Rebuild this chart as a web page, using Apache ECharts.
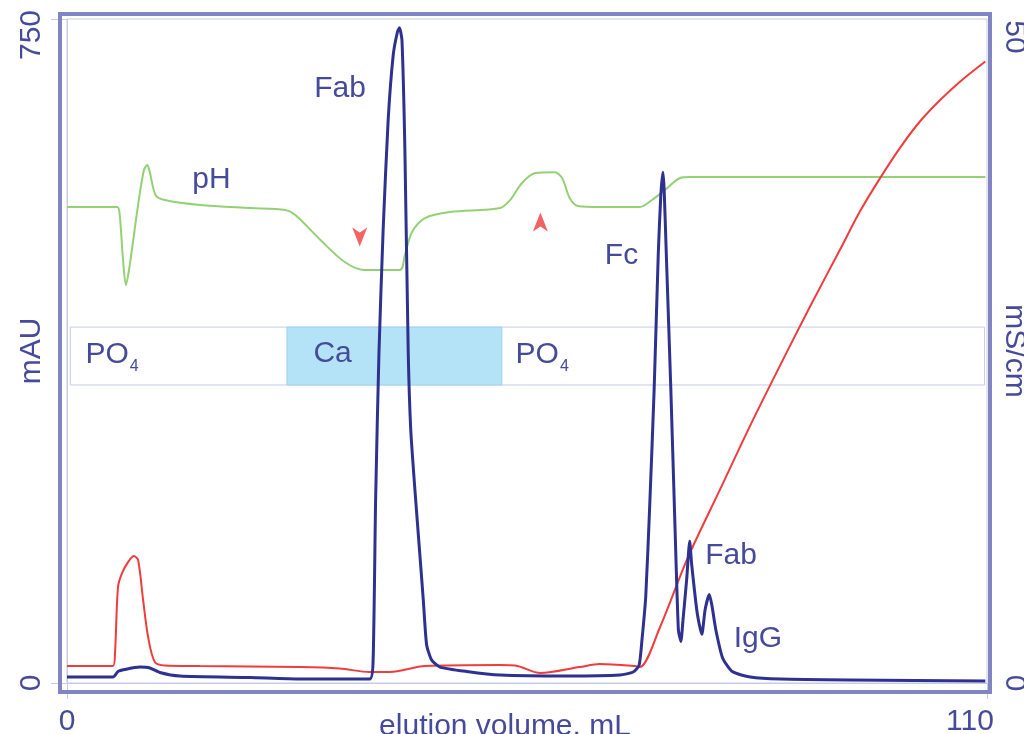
<!DOCTYPE html>
<html>
<head>
<meta charset="utf-8">
<title>Fab / Fc separation</title>
<script src="https://cdn.jsdelivr.net/npm/echarts@6/dist/echarts.min.js"></script>
<style>
  html, body { margin: 0; padding: 0; background: #fff; }
  #chart { width: 1024px; height: 734px; }
</style>
</head>
<body>
<div id="chart"></div>
<script>
// UV trace, [mL, mAU]
var uvTrace = [
  [0, 6.8], [5.5, 6.8], [6.1, 13], [6.9, 15.2], [8.7, 18], [9.9, 17], [11.1, 11.9],
  [13.5, 7.9], [21.9, 6.2], [27.9, 4.5], [36.2, 4.5],
  [36.6, 26], [36.9, 207], [37.3, 373], [37.8, 512], [38.4, 636], [39.0, 709],
  [39.5, 735], [39.75, 740], [40.05, 726], [40.4, 602], [40.8, 373], [41.1, 286],
  [41.6, 218], [42.1, 156], [42.6, 94], [43.0, 43], [43.6, 26], [44.6, 18],
  [47.8, 13], [51.8, 9], [59.8, 7.9], [66.1, 9], [67.7, 12.4], [68.4, 20],
  [68.75, 49], [69.2, 98], [69.7, 207], [70.2, 331], [70.7, 486], [71.0, 551],
  [71.25, 577], [71.4, 557], [71.65, 486], [72.2, 331], [72.7, 175], [73.1, 60],
  [73.4, 47], [73.65, 71], [74.1, 118], [74.45, 160], [74.7, 133], [75.35, 79],
  [75.9, 55], [76.3, 83], [76.8, 100], [77.1, 88], [77.6, 59], [78.4, 28],
  [79.6, 12.6], [81.7, 6.8], [85.3, 4.5], [93.6, 3.4], [109.8, 2.3]
];

// conductivity, [mL, mS/cm]
var condTrace = [
  [0, 1.28], [5.5, 1.28], [5.74, 2.26], [6.1, 7.23], [6.58, 8.28], [7.3, 9.1],
  [8.0, 9.56], [8.5, 9.26], [9.1, 6.25], [9.7, 3.46], [10.5, 1.58], [11.7, 1.32],
  [15.9, 1.28], [27.9, 1.2], [32.6, 1.09], [36.2, 0.83], [38.6, 0.83], [42.8, 1.28],
  [51.8, 1.36], [53.6, 1.32], [56.6, 0.75], [61.3, 1.2], [63.7, 1.43], [67.9, 1.28],
  [68.5, 1.2], [70.9, 4.2], [74.2, 9.4], [78.1, 14.6], [81.7, 19.4], [85.25, 23.9],
  [88.8, 28.3], [92.4, 32.6], [94.8, 35.5], [97.2, 38.0], [99.6, 40.3], [102.0, 42.3],
  [104.4, 43.9], [106.8, 45.3], [109.8, 46.8]
];

// pH trace (no pH scale in the figure, drawn on the mAU scale)
var phTrace = [
  [0, 537.7], [6.0, 537.7], [6.3, 528.6], [6.7, 477.8], [7.05, 449.6], [7.5, 472],
  [8.5, 540], [9.2, 579.5], [9.6, 585], [9.9, 577], [10.6, 551], [11.7, 545.6],
  [15.9, 540], [21.9, 536.5], [26.1, 534.3], [27.3, 528.6], [30.3, 500.4],
  [33.2, 475.5], [35.6, 466.5], [39.8, 466.5], [40.4, 483.4], [41.25, 509.4],
  [42.8, 525.2], [45.8, 532], [51.8, 536.5], [53.0, 545.6], [54.4, 564.8],
  [56.0, 576], [58.3, 577], [59.2, 570.4], [60.1, 547.8], [61.1, 538.8],
  [63.7, 537.7], [68.5, 537.7], [69.95, 545.6], [71.5, 556.9], [73.3, 570.4],
  [74.5, 571.5], [109.8, 571.5]
];

// buffer band
var bufferBand = [0.4, 109.7];
var calciumBand = [26.3, 52.0];
var bandLevels = [336.6, 402];

// annotations, [mL, mAU, text]
var peakNames = [
  [32.64, 670.9, 'Fab'], [17.28, 568.2, 'pH'], [66.3, 482.3, 'Fc'],
  [79.4, 143.5, 'Fab'], [82.6, 49.7, 'IgG']
];
var bufferNames = [[2.15, 367, 'PO4'], [29.4, 369, 'Ca'], [53.57, 367, 'PO4']];
var arrowMarks = [[35.0, 503.8, 'down'], [56.6, 520.7, 'up']];

var xRange = [0, 110];
var mauRange = [0, 750];
var condRange = [0, 50];

var textColor = '#464a9a';
var thinLine = '#c9cbe6';
var font = '"Liberation Sans", Arial, sans-serif';

var chart = echarts.init(document.getElementById('chart'));

var option = {
  backgroundColor: '#fff',
  animation: false,
  textStyle: { fontFamily: font },
  grid: {
    left: 67, right: 37, top: 19, bottom: 51,
    containLabel: false, outerBoundsMode: 'none',
    show: true, borderColor: thinLine, borderWidth: 1
  },
  xAxis: {
    type: 'value', min: xRange[0], max: xRange[1], interval: xRange[1] - xRange[0],
    axisLine: { show: true, onZero: false, lineStyle: { color: thinLine, width: 1 } },
    axisTick: { show: true, length: 16, lineStyle: { color: thinLine } },
    splitLine: { show: false },
    axisLabel: {
      margin: 24,
      formatter: function (v) { return v === xRange[1] ? '{end|' + v + '}' : '{n|' + v + '}'; },
      rich: {
        n: { fontSize: 30, color: textColor, fontFamily: font },
        end: { fontSize: 30, color: textColor, fontFamily: font, padding: [0, 34, 0, 0] }
      }
    },
    name: 'elution volume, mL', nameLocation: 'middle', nameGap: 29, nameMoveOverlap: false,
    nameTextStyle: { fontSize: 30, color: textColor, padding: [0, 44, 0, 0] }
  },
  yAxis: [{
    type: 'value', min: mauRange[0], max: mauRange[1], interval: mauRange[1],
    axisLine: { show: true, onZero: false, lineStyle: { color: thinLine, width: 1 } },
    axisTick: { show: true, length: 16, lineStyle: { color: thinLine } },
    splitLine: { show: false },
    axisLabel: {
      rotate: 90, margin: 20,
      formatter: function (v) { return v === mauRange[1] ? '{top|' + v + '}' : '{n|' + v + '}'; },
      rich: {
        n: { fontSize: 30, color: textColor, fontFamily: font },
        top: { fontSize: 30, color: textColor, fontFamily: font, padding: [0, 32, 0, 0] }
      }
    },
    name: 'mAU', nameLocation: 'middle', nameRotate: 90, nameGap: 20, nameMoveOverlap: false,
    nameTextStyle: { fontSize: 30, color: textColor }
  }, {
    type: 'value', position: 'right', min: condRange[0], max: condRange[1], interval: condRange[1],
    axisLine: { show: false, onZero: false },
    axisTick: { show: false },
    splitLine: { show: false },
    axisLabel: {
      rotate: -90, margin: 12,
      formatter: function (v) { return v === condRange[1] ? '{top|' + v + '}' : '{n|' + v + '}'; },
      rich: {
        n: { fontSize: 30, color: textColor, fontFamily: font },
        top: { fontSize: 30, color: textColor, fontFamily: font, padding: [0, 0, 0, 36] }
      }
    },
    name: 'mS/cm', nameLocation: 'middle', nameRotate: -90, nameGap: 12, nameMoveOverlap: false,
    nameTextStyle: { fontSize: 30, color: textColor }
  }],
  graphic: [{
    type: 'rect', z: 100, silent: true,
    shape: { x: 60, y: 14, width: 930, height: 678 },
    style: { fill: 'none', stroke: '#8185c2', lineWidth: 4 }
  }],
  series: [
    {
      name: 'buffer', type: 'line', data: [], z: 1,
      markArea: {
        silent: true,
        label: { show: false },
        data: [
          [{ xAxis: bufferBand[0], yAxis: bandLevels[0], itemStyle: { color: 'rgba(255,255,255,0)', borderColor: thinLine, borderWidth: 1 } },
           { xAxis: bufferBand[1], yAxis: bandLevels[1] }],
          [{ xAxis: calciumBand[0], yAxis: bandLevels[0], itemStyle: { color: '#b4e2f7', borderColor: '#9fd2ec', borderWidth: 1 } },
           { xAxis: calciumBand[1], yAxis: bandLevels[1] }]
        ]
      }
    },
    {
      name: 'pH', type: 'line', data: phTrace, z: 3, showSymbol: false, smooth: 0.3,
      lineStyle: { color: '#93d175', width: 2 }
    },
    {
      name: 'conductivity', type: 'line', yAxisIndex: 1, data: condTrace, z: 4,
      showSymbol: false, smooth: 0.3,
      lineStyle: { color: '#f03c3c', width: 2 }
    },
    {
      name: 'UV', type: 'line', data: uvTrace, z: 5, showSymbol: false, smooth: 0.2,
      lineStyle: { color: '#2e3190', width: 3 }
    },
    {
      name: 'arrows', type: 'scatter', z: 6, silent: true,
      data: arrowMarks.map(function (a) {
        return {
          value: [a[0], a[1]],
          symbol: a[2] === 'down' ? 'path://M0,0 L8,5 L16,0 L8,19 Z' : 'path://M0,19 L8,14 L16,19 L8,0 Z'
        };
      }),
      symbolSize: [15, 19],
      itemStyle: { color: '#f03c3c' }
    },
    {
      name: 'peakNames', type: 'scatter', z: 7, silent: true,
      data: peakNames, symbolSize: 1, itemStyle: { color: 'rgba(255,255,255,0)' },
      label: {
        show: true, position: 'inside', fontSize: 30, color: textColor,
        textBorderWidth: 0, opacity: 1,
        formatter: function (p) { return p.value[2]; }
      }
    },
    {
      name: 'bufferNames', type: 'scatter', z: 7, silent: true,
      data: bufferNames, symbolSize: 1, itemStyle: { color: 'rgba(255,255,255,0)' },
      label: {
        show: true, position: 'right', distance: 0, textBorderWidth: 0, opacity: 1,
        formatter: function (p) {
          var t = p.value[2];
          return t === 'PO4' ? '{m|PO}{s|4}' : '{m|' + t + '}';
        },
        rich: {
          m: { fontSize: 30, color: textColor, fontFamily: font, padding: [0, 0, 6, 0] },
          s: { fontSize: 16, color: textColor, fontFamily: font, padding: [18, 0, 0, 1] }
        }
      }
    }
  ]
};

chart.setOption(option);
</script>
</body>
</html>
